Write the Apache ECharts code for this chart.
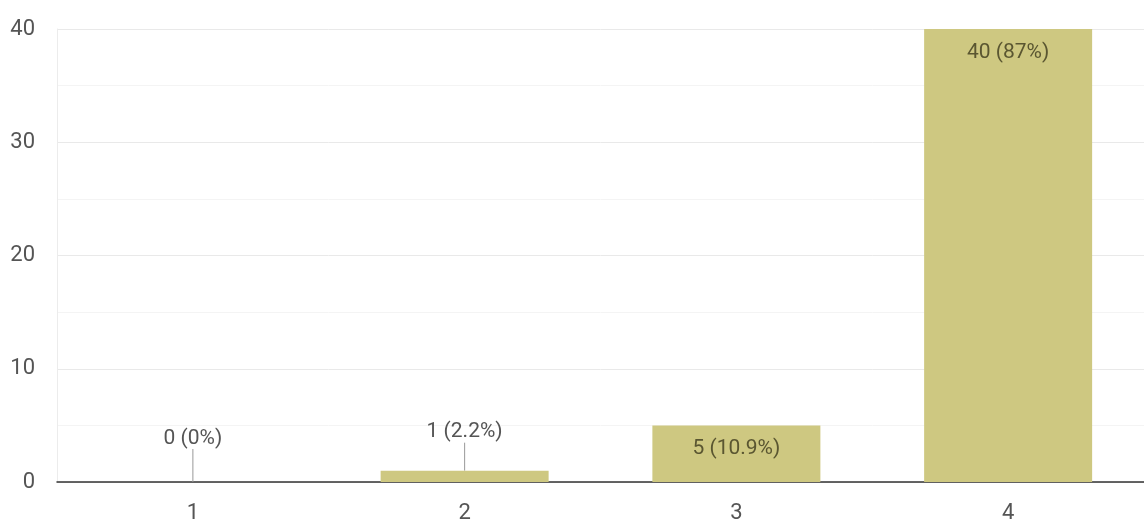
<!DOCTYPE html>
<html>
<head>
<meta charset="utf-8">
<script src="https://cdn.jsdelivr.net/npm/echarts@6/dist/echarts.min.js"></script>
<style>
html,body{margin:0;padding:0;background:#fff;}
#c{width:1144px;height:528px;}
</style>
</head>
<body>
<div id="c"></div>
<script>
const categories = ['1', '2', '3', '4'];
const counts = [0, 1, 5, 40];
const percents = ['0%', '2.2%', '10.9%', '87%'];
const yTicks = [0, 10, 20, 30, 40];

const FONT = 'Roboto, "Liberation Sans", Arial, sans-serif';
const chart = echarts.init(document.getElementById('c'), null, {renderer: 'canvas'});

const data = counts.map((v, i) => {
  const outside = v < 3;
  return {
    value: v,
    label: outside
      ? {position: 'top', distance: 2, color: '#555'}
      : {position: 'insideTop', distance: 13, color: '#5a5631'}
  };
});

chart.setOption({
  animation: false,
  grid: {left: 57, right: 0, top: 29, bottom: 46, containLabel: false},
  xAxis: {
    type: 'category',
    data: categories,
    axisLine: {show: true, lineStyle: {color: '#333', width: 1.5}},
    axisTick: {show: false},
    axisLabel: {fontFamily: FONT, fontSize: 22, color: '#555', margin: 20},
    splitLine: {show: false}
  },
  yAxis: {
    type: 'value',
    min: yTicks[0],
    max: yTicks[yTicks.length - 1],
    interval: 10,
    axisLine: {show: true, lineStyle: {color: '#ececec', width: 1}},
    axisTick: {show: false},
    axisLabel: {fontFamily: FONT, fontSize: 22, color: '#555', margin: 22},
    splitLine: {show: true, lineStyle: {color: '#e9e9e9', width: 1}},
    minorTick: {show: false, splitNumber: 2},
    minorSplitLine: {show: true, lineStyle: {color: '#f4f4f4', width: 1}}
  },
  series: [{
    type: 'bar',
    data: data,
    barWidth: 168,
    itemStyle: {color: '#cec881'},
    label: {
      show: true,
      fontFamily: FONT,
      fontSize: 21,
      formatter: (p) => counts[p.dataIndex] + ' (' + percents[p.dataIndex] + ')'
    },
    labelLayout: (p) => counts[p.dataIndex] < 3 ? {dy: counts[p.dataIndex] === 0 ? -31 : -26} : {},
    labelLine: {show: true, length2: 0, lineStyle: {color: '#999', width: 1}}
  }]
});
</script>
</body>
</html>
